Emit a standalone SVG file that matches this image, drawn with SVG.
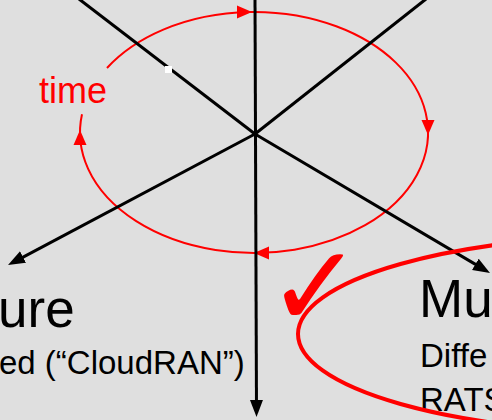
<svg xmlns="http://www.w3.org/2000/svg" width="492" height="420" viewBox="0 0 492 420">
  <style>
    .axis { stroke: #000000; stroke-width: 3; fill: none; }
    .cycle { stroke: #ff0000; stroke-width: 2; fill: none; }
    .loop { stroke: #ff0000; stroke-width: 4; fill: none; }
    .big { font-family: "Liberation Sans", Arial, sans-serif; font-size: 53px; fill: #000000; }
    .small { font-family: "Liberation Sans", Arial, sans-serif; font-size: 33px; fill: #000000; }
    .red-label { font-family: "Liberation Sans", Arial, sans-serif; font-size: 36px; fill: #ff0000; }
  </style>
  <defs>
    <marker id="arrow-black" markerUnits="userSpaceOnUse" markerWidth="18" markerHeight="14" refX="9" refY="6.5" orient="auto">
      <path d="M0,0 L17,6.5 L0,13 Z" fill="#000000"/>
    </marker>
    <path id="tri-red" d="M0,0 L-15,-6.5 L-15,6.5 Z" fill="#ff0000"/>
  </defs>

  <rect width="492" height="420" fill="#dfdfdf"/>

  <!-- time cycle around the hub -->
  <g id="time-cycle">
    <path class="cycle" d="M107,68 A174,120.5 0 1,1 82,114.3"/>
    <use href="#tri-red" transform="translate(252,12)"/>
    <use href="#tri-red" transform="translate(428,135) rotate(90)"/>
    <use href="#tri-red" transform="translate(254,253) rotate(180)"/>
    <use href="#tri-red" transform="translate(80,130) rotate(-90)"/>
    <text class="red-label" x="39" y="103">time</text>
  </g>

  <!-- axes radiating from the hub -->
  <g id="connectors">
    <line class="axis" x1="79" y1="-1" x2="255" y2="134"/>
    <line class="axis" x1="426" y1="-1" x2="255" y2="134"/>
    <line class="axis" x1="255" y1="-2" x2="256.5" y2="409" marker-end="url(#arrow-black)"/>
    <line class="axis" x1="255" y1="134" x2="15.1" y2="261.3" marker-end="url(#arrow-black)"/>
    <line class="axis" x1="255" y1="134" x2="483.1" y2="268.9" marker-end="url(#arrow-black)"/>
    <rect x="165" y="66" width="7" height="7" fill="#ffffff"/>
  </g>

  <g id="architecture">
    <text class="big" x="-2" y="327">ure</text>
    <text class="small" x="-1" y="374">ed (“CloudRAN”)</text>
  </g>

  <g id="multi-rat">
    <text class="big" x="419" y="317">Mu</text>
    <text class="small" x="420" y="367">Diffe</text>
    <text class="small" x="420" y="411">RATS</text>
  </g>

  <!-- selection loop and tick -->
  <g id="selection">
    <ellipse class="loop" cx="648" cy="334" rx="350" ry="99"/>
    <text x="267" y="326" font-family="'DejaVu Sans', sans-serif" font-size="114" fill="#ff0000">✓</text>
  </g>
</svg>
